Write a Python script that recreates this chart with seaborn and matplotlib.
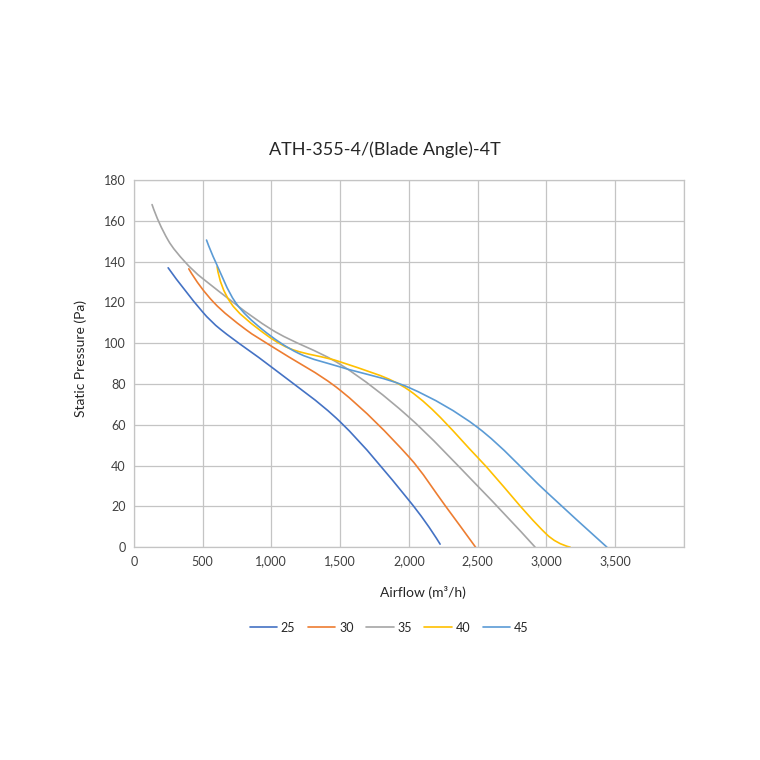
import numpy as np
import pandas as pd
import matplotlib
matplotlib.use("Agg")
import matplotlib.pyplot as plt
import seaborn as sns
from matplotlib.ticker import FuncFormatter
from matplotlib.path import Path
from matplotlib.patches import PathPatch

# blade angle curves (airflow m3/h, static pressure Pa)
angles = ["25", "30", "35", "40", "45"]

flow_25 = [250, 500, 631, 1000, 1500, 2000, 2227]
pres_25 = [137, 115.4, 106.8, 88.4, 61.5, 23, 1.5]

flow_30 = [400, 582, 813, 1000, 1500, 2000, 2268, 2485]
pres_30 = [136.5, 120, 106.8, 98.6, 77, 44.3, 20, 0]

flow_35 = [133, 250, 371, 500, 1000, 1500, 1985, 2500, 2918]
pres_35 = [168, 150.5, 140, 131.8, 106.8, 89.7, 64.7, 30, 0]

flow_40 = [606, 703, 910, 1135, 1500, 2000, 2500, 3000, 3173]
pres_40 = [137.5, 120, 106.8, 97.4, 90.9, 77, 44, 6.4, 0]

flow_45 = [529, 594, 740, 934, 1200, 1500, 2000, 2500, 3000, 3440]
pres_45 = [150.6, 140, 120, 106.8, 95, 88.4, 78.3, 58.7, 27.1, 0]

colors = ["#4472C4", "#ED7D31", "#A5A5A5", "#FFC000", "#5B9BD5"]

rows = []
for name, fx, py in zip(angles,
                        [flow_25, flow_30, flow_35, flow_40, flow_45],
                        [pres_25, pres_30, pres_35, pres_40, pres_45]):
    for a, b in zip(fx, py):
        rows.append({"angle": name, "airflow": a, "pressure": b})
df = pd.DataFrame(rows)

sns.set_style("white")
plt.rcParams["font.family"] = ["Lato", "DejaVu Sans"]

fig = plt.figure(figsize=(7.6, 7.6), dpi=100)
ax = fig.add_axes([0.176, 0.28, 0.724, 0.483])

sns.lineplot(data=df, x="airflow", y="pressure", hue="angle",
             palette=colors, sort=False, estimator=None,
             linewidth=1.2, ax=ax, legend=True)

ax.set_xlim(0, 4000)
ax.set_ylim(0, 180)
ax.set_xticks(np.arange(0, 4001, 500))
ax.set_yticks(np.arange(0, 181, 20))
ax.xaxis.set_major_formatter(FuncFormatter(lambda v, p: "" if v > 3500 else f"{int(v):,}"))
ax.grid(True, color="#c4c4c4", linewidth=0.9)
for s in ax.spines.values():
    s.set_color("#c4c4c4")
    s.set_linewidth(0.9)
ax.tick_params(axis="both", length=0, labelsize=9, colors="#404040", pad=6)

fig.text(0.507, 0.803, "ATH-355-4/(Blade Angle)-4T", fontsize=13,
         color="#262626", ha="center", va="center")
ax.set_xlabel("Airflow (m\u00b3/h)", fontsize=10, color="#262626")
ax.xaxis.set_label_coords(0.525, -0.105)
ax.set_ylabel("Static Pressure (Pa)", fontsize=10, color="#262626")
ax.yaxis.set_label_coords(-0.085, 0.515)

handles, labels = ax.get_legend_handles_labels()
ax.get_legend().remove()
fig.legend(handles, labels, loc="center", bbox_to_anchor=(0.512, 0.174),
           ncol=5, frameon=False, fontsize=9, handlelength=2.2,
           columnspacing=1.0, handletextpad=0.3)

# excel-style smoothed line: hermite/bezier segments with chord-scaled tangents
sx, sy = 550 / 4000, 367 / 180
for line in ax.lines[:len(angles)]:
    xs, ys = line.get_data()
    p = np.column_stack([np.asarray(xs, float) * sx, np.asarray(ys, float) * sy])
    d = np.linalg.norm(np.diff(p, axis=0), axis=1)
    n = len(p)
    tang = np.zeros_like(p)
    for i in range(1, n - 1):
        tang[i] = (p[i + 1] - p[i - 1]) / (d[i - 1] + d[i])
    # parabolic end conditions so the ends keep their bend
    tang[0] = 2 * (p[1] - p[0]) / d[0] - tang[1]
    tang[-1] = 2 * (p[-1] - p[-2]) / d[-1] - tang[-2]
    verts = [p[0]]
    codes = [Path.MOVETO]
    for i in range(n - 1):
        h = d[i] / 3
        verts += [p[i] + tang[i] * h, p[i + 1] - tang[i + 1] * h, p[i + 1]]
        codes += [Path.CURVE4] * 3
    verts = np.array(verts) / [sx, sy]
    ax.add_patch(PathPatch(Path(verts, codes), fill=False, edgecolor=line.get_color(),
                           linewidth=1.2, capstyle="round", joinstyle="round"))
    line.set_visible(False)

fig.savefig("out.png", dpi=100)
